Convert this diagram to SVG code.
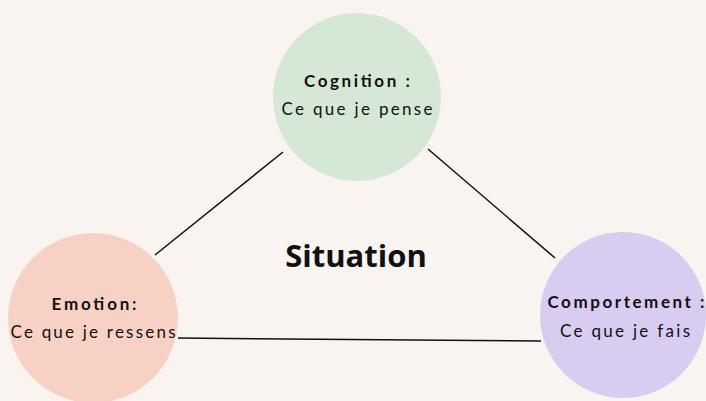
<svg xmlns="http://www.w3.org/2000/svg" width="706" height="401" viewBox="0 0 706 401">
<style>
.t{font-family:"Lato","Noto Sans",sans-serif;font-size:17px;fill:#111;text-anchor:middle}
.b{font-weight:bold}
.conn line{stroke:#111;stroke-width:1.5}
</style>
<rect width="706" height="401" fill="#f9f4ef"/>
<g class="conn">
<line x1="155" y1="255" x2="283" y2="152"/>
<line x1="428" y1="149" x2="555" y2="258"/>
<line x1="178" y1="338" x2="541" y2="341"/>
</g>
<g id="cognition">
<circle cx="357" cy="97" r="84" fill="#d5e7d5"/>
<text class="t b" x="357" y="87" textLength="106" lengthAdjust="spacing">Cognition :</text>
<text class="t" x="357" y="115" textLength="151" lengthAdjust="spacing">Ce que je pense</text>
</g>
<g id="emotion">
<circle cx="93" cy="318" r="85" fill="#f8d1c5"/>
<text class="t b" x="94" y="310" textLength="85" lengthAdjust="spacing">Emotion:</text>
<text class="t" x="93" y="338" textLength="165" lengthAdjust="spacing">Ce que je ressens</text>
</g>
<g id="comportement">
<circle cx="623" cy="315" r="83" fill="#d9ccf1"/>
<text class="t b" x="626" y="308" textLength="157" lengthAdjust="spacing">Comportement :</text>
<text class="t" x="625" y="337" textLength="130" lengthAdjust="spacing">Ce que je fais</text>
</g>
<g id="situation">
<text x="356" y="267" font-family="'Open Sans',sans-serif" font-weight="bold" font-size="31" text-anchor="middle" fill="#111">Situation</text>
</g>
</svg>
